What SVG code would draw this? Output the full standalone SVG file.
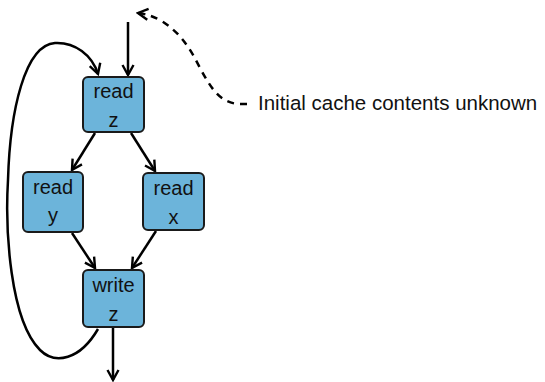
<svg xmlns="http://www.w3.org/2000/svg" width="545" height="382" viewBox="0 0 545 382">
<style>
.box{fill:#6cb4da;stroke:#1a1a1a;stroke-width:2}
.t{font-family:"Liberation Sans",Arial,sans-serif;font-size:20px;fill:#111;text-anchor:middle}
.e{fill:none;stroke:#000;stroke-width:2.5}
.lbl{font-family:"Liberation Sans",Arial,sans-serif;font-size:20.5px;fill:#111}
</style>
<defs>
<marker id="a2" viewBox="0 0 14 14" refX="12" refY="7" markerWidth="14" markerHeight="14" markerUnits="userSpaceOnUse" orient="auto">
<path d="M2,1.5 L12,7 L2,12.5" fill="none" stroke="#000" stroke-width="2.4"/>
</marker>
</defs>
<g id="connectors">
<line class="e" x1="128" y1="22" x2="128" y2="75" marker-end="url(#a2)"/>
<path class="e" d="M247,104 L238,104 C220,102 212,90 200,68 C190,48 180,32 160,20 C152,16 146,14 138,13" stroke-dasharray="7,6" marker-end="url(#a2)"/>
<path class="e" d="M98,329 C80,360 55,365 40,350 C10,320 5,230 8,180 C10,110 25,45 55,43 C75,42 92,55 98,74" marker-end="url(#a2)"/>
<line class="e" x1="95" y1="133" x2="72" y2="170" marker-end="url(#a2)"/>
<line class="e" x1="131" y1="133" x2="155" y2="171" marker-end="url(#a2)"/>
<line class="e" x1="72" y1="233" x2="95" y2="268" marker-end="url(#a2)"/>
<line class="e" x1="156" y1="231" x2="132" y2="268" marker-end="url(#a2)"/>
<line class="e" x1="113" y1="328" x2="113" y2="380" marker-end="url(#a2)"/>
</g>
<g id="readz">
<rect class="box" x="83" y="77" width="61" height="55" rx="5"/>
<text class="t" x="113.5" y="98">read</text>
<text class="t" x="113.5" y="127">z</text>
</g>
<g id="ready">
<rect class="box" x="23" y="172" width="60" height="60" rx="5"/>
<text class="t" x="53" y="194">read</text>
<text class="t" x="53" y="222">y</text>
</g>
<g id="readx">
<rect class="box" x="143" y="173" width="61" height="57" rx="5"/>
<text class="t" x="173.5" y="195">read</text>
<text class="t" x="173.5" y="224">x</text>
</g>
<g id="writez">
<rect class="box" x="83" y="270" width="61" height="57" rx="5"/>
<text class="t" x="113.5" y="292">write</text>
<text class="t" x="113.5" y="321">z</text>
</g>
<g id="note">
<text class="lbl" x="258" y="110">Initial cache contents unknown</text>
</g>
</svg>
